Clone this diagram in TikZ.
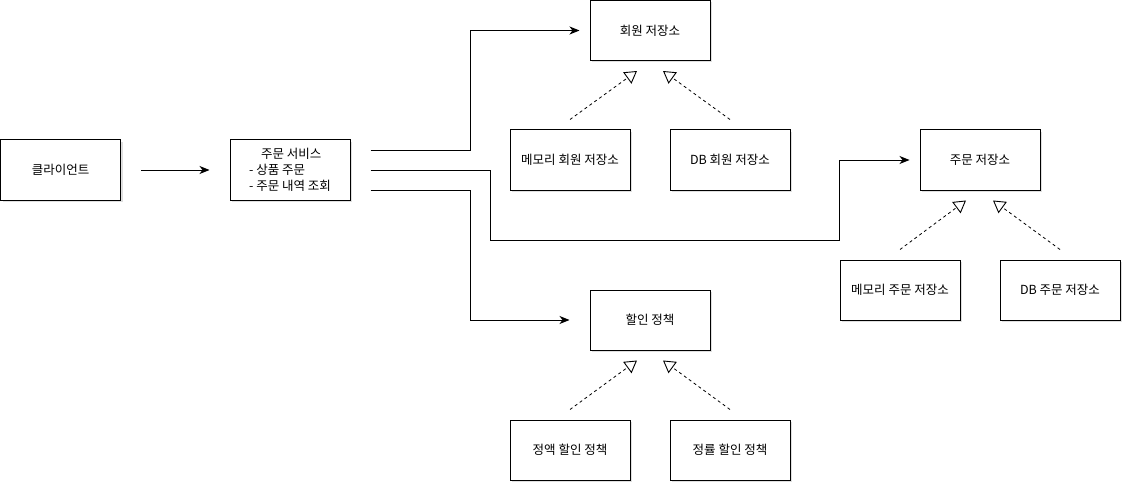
\documentclass[tikz,border=0pt]{standalone}
\usepackage{fontspec}
\setmainfont{Noto Sans CJK KR}
\usetikzlibrary{arrows.meta,calc,shadows}
\begin{document}
\begin{tikzpicture}[x=1pt,y=-1pt,
  box/.style={draw, line width=1pt, fill=white, minimum width=120pt, minimum height=60pt,
    inner sep=0pt, font=\fontsize{12.5}{16}\selectfont,
    drop shadow={shadow xshift=2pt, shadow yshift=-2pt, opacity=0.25, fill=gray}},
  arr/.style={line width=1pt, -{Stealth[length=10pt,width=8pt,inset=3pt]}},
  impl/.style={line width=0.8pt, dash pattern=on 3pt off 3pt, -{Triangle[open,length=12pt,width=14pt,line width=0.9pt]}}]
\useasboundingbox (0,0) rectangle (1132,492);

\node[box] (cl) at (60.5,170) {클라이언트};
\node[box, align=left] (svc) at (290,170) {\hspace*{12pt}주문 서비스\\- 상품 주문\\- 주문 내역 조회};
\node[box] (rep) at (650,30.5) {회원 저장소};
\node[box] (m1) at (570,160) {메모리 회원 저장소};
\node[box] (db1) at (730,160) {DB 회원 저장소};
\node[box] (ord) at (980,160) {주문 저장소};
\node[box] (m2) at (900,290) {메모리 주문 저장소};
\node[box] (db2) at (1060,290) {DB 주문 저장소};
\node[box] (disc) at (650,320) {할인 정책};
\node[box] (d1) at (570,450) {정액 할인 정책};
\node[box] (d2) at (730,450) {정률 할인 정책};

\draw[arr] ($(cl.east)+(20,0)$) -- ($(svc.west)+(-20,0)$);
\draw[arr] ($(svc.east)+(20,-20)$) -- ++(100,0) |- ($(rep.west)+(-10,0)$);
\draw[arr] ($(svc.east)+(20,0)$) -- ++(120,0) |- ($(ord.west)+(-80,80)$) |- ($(ord.west)+(-10,0)$);
\draw[arr] ($(svc.east)+(20,20)$) -- ++(100,0) |- ($(disc.west)+(-20,0)$);

\draw[impl] ($(m1.north)+(0,-10)$) -- ($(rep.south)+(-13,10)$);
\draw[impl] ($(db1.north)+(0,-10)$) -- ($(rep.south)+(13,10)$);
\draw[impl] ($(m2.north)+(0,-10)$) -- ($(ord.south)+(-14,10)$);
\draw[impl] ($(db2.north)+(0,-10)$) -- ($(ord.south)+(13,10)$);
\draw[impl] ($(d1.north)+(0,-10)$) -- ($(disc.south)+(-13,10)$);
\draw[impl] ($(d2.north)+(0,-10)$) -- ($(disc.south)+(13,10)$);
\end{tikzpicture}
\end{document}
